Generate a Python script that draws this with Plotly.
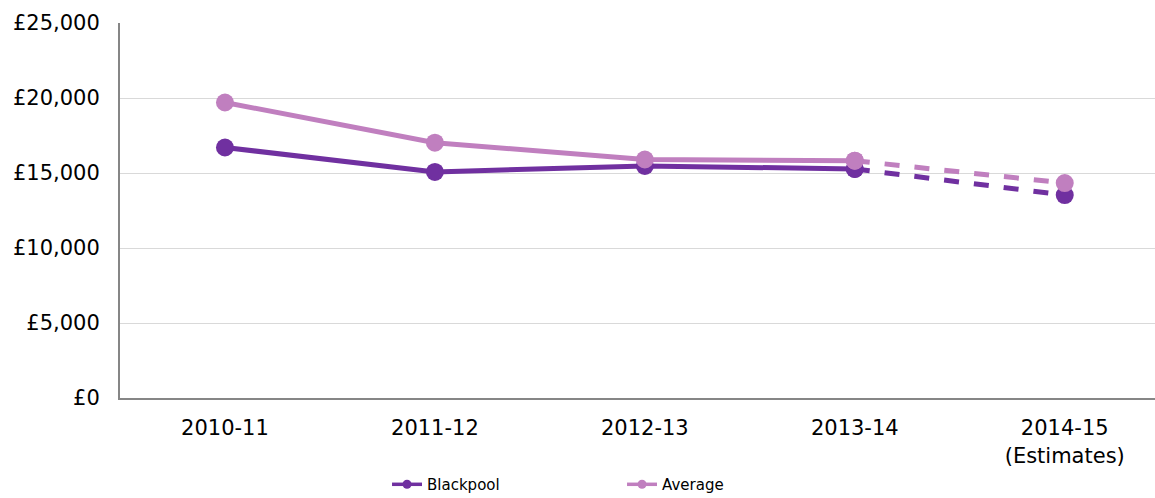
import plotly.graph_objects as go

# Data
years = ["2010-11", "2011-12", "2012-13", "2013-14", "2014-15"]
year_labels = ["2010-11", "2011-12", "2012-13", "2013-14", "2014-15<br>(Estimates)"]
blackpool = [16700, 15070, 15470, 15270, 13530]
average = [19700, 17020, 15900, 15820, 14330]

BLACKPOOL_COLOR = "#7030A0"
AVERAGE_COLOR = "#C07FBF"
FONT = "DejaVu Sans, Verdana, sans-serif"

fig = go.Figure()

for name, values, color in [("Blackpool", blackpool, BLACKPOOL_COLOR),
                            ("Average", average, AVERAGE_COLOR)]:
    # actual figures: solid line
    fig.add_trace(go.Scatter(
        x=years[:4], y=values[:4], name=name, legendgroup=name,
        showlegend=False, mode="lines+markers",
        line=dict(color=color, width=5),
        marker=dict(color=color, size=18),
    ))
    # estimate: dashed segment
    fig.add_trace(go.Scatter(
        x=years[3:], y=values[3:], name=name, legendgroup=name,
        showlegend=False, mode="lines+markers",
        line=dict(color=color, width=5, dash="dash"),
        marker=dict(color=color, size=18),
    ))
    # legend entry only (smaller marker as in the original)
    fig.add_trace(go.Scatter(
        x=[None], y=[None], name=name, legendgroup=name,
        mode="lines+markers",
        line=dict(color=color, width=3.5),
        marker=dict(color=color, size=9),
    ))

fig.update_layout(
    width=1155, height=498,
    margin=dict(l=120, r=0, t=23, b=100, autoexpand=False),
    plot_bgcolor="white", paper_bgcolor="white",
    font=dict(family=FONT, size=21, color="black"),
    showlegend=True,
    legend=dict(
        orientation="h", x=0.258, xanchor="left",
        yref="container", y=0.027, yanchor="middle",
        font=dict(size=15), entrywidth=190, entrywidthmode="pixels",
        traceorder="normal",
    ),
    xaxis=dict(
        type="category", categoryorder="array", categoryarray=years,
        tickvals=years, ticktext=year_labels,
        range=[-0.5, 4.43], automargin=False,
        showgrid=False, showline=True, linecolor="#868686", linewidth=2,
        ticks="outside", ticklen=10, tickcolor="rgba(0,0,0,0)",
        tickfont=dict(size=21),
    ),
    yaxis=dict(
        range=[0, 25000], tickvals=[0, 5000, 10000, 15000, 20000, 25000],
        ticktext=["£0", "£5,000", "£10,000", "£15,000", "£20,000", "£25,000"],
        automargin=False,
        showgrid=True, gridcolor="#D9D9D9", gridwidth=1,
        showline=True, linecolor="#868686", linewidth=2,
        ticks="outside", ticklen=14, tickcolor="rgba(0,0,0,0)",
        zeroline=False,
    ),
)

# drop the default page margin so the chart sits flush in the window
fig.write_html(
    "out.html",
    config={"displayModeBar": False},
    post_script="document.body.style.margin='0';document.body.style.overflow='hidden';",
)
